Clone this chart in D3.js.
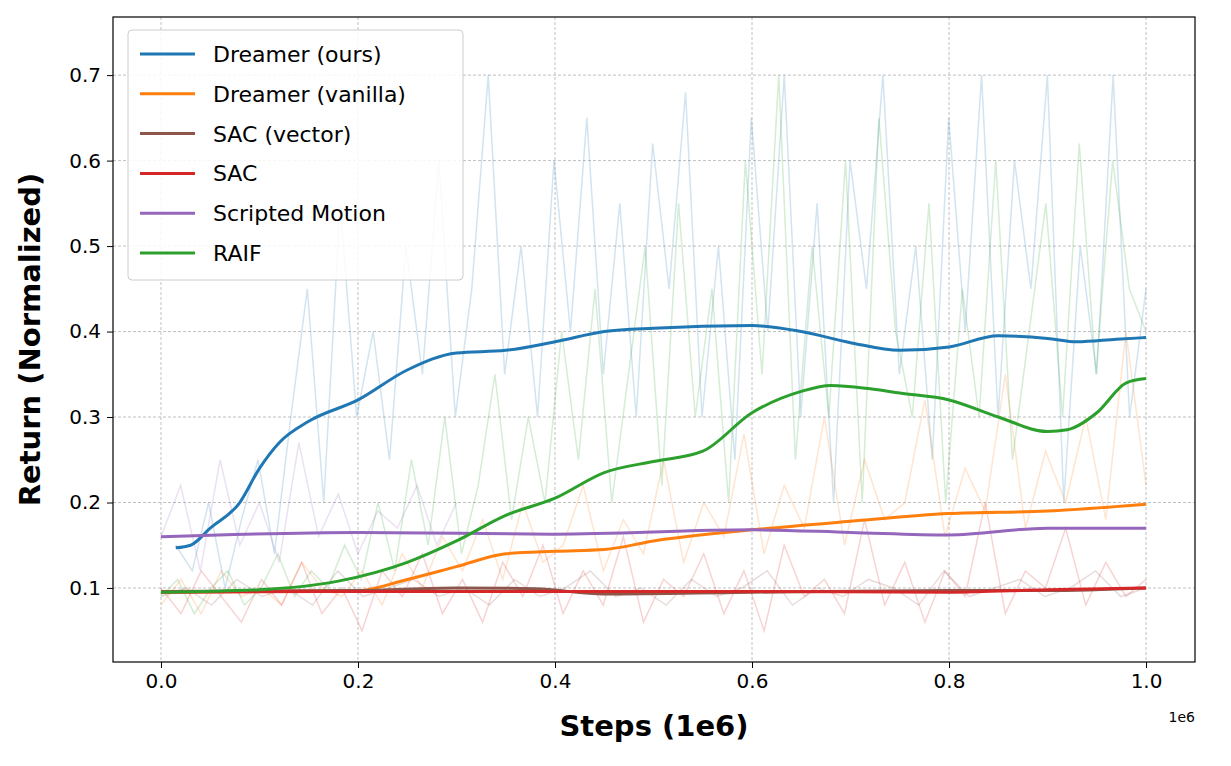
<!DOCTYPE html>
<html>
<head>
<meta charset="utf-8">
<script src="https://cdn.jsdelivr.net/npm/d3@7"></script>
<style>
  body { margin: 0; background: #fff; }
  text { font-family: "DejaVu Sans", sans-serif; }
</style>
</head>
<body>
<svg id="chart" width="1231" height="766"></svg>
<script>
// smoothed curves: [step (1e6), return]
const oursSmooth = [[0.015,0.147],[0.03,0.15],[0.05,0.17],[0.08,0.2],[0.1,0.24],[0.12,0.27],[0.15,0.295],[0.2,0.32],[0.25,0.355],[0.3,0.375],[0.35,0.378],[0.4,0.388],[0.45,0.4],[0.5,0.404],[0.6,0.407],[0.65,0.4],[0.7,0.387],[0.75,0.378],[0.8,0.382],[0.85,0.395],[0.9,0.392],[0.93,0.388],[0.97,0.391],[1.0,0.393]];
const vanillaSmooth = [[0,0.095],[0.2,0.097],[0.25,0.11],[0.3,0.125],[0.35,0.14],[0.4,0.143],[0.45,0.145],[0.5,0.155],[0.6,0.168],[0.7,0.178],[0.8,0.187],[0.9,0.19],[1.0,0.198]];
const sacVecSmooth = [[0,0.096],[0.2,0.097],[0.3,0.1],[0.38,0.099],[0.45,0.093],[0.6,0.095],[0.8,0.097],[0.9,0.097],[1.0,0.1]];
const sacSmooth = [[0,0.095],[0.2,0.096],[0.4,0.096],[0.6,0.096],[0.8,0.095],[0.9,0.098],[1.0,0.1]];
const scriptedSmooth = [[0,0.16],[0.2,0.165],[0.4,0.163],[0.6,0.168],[0.7,0.165],[0.8,0.162],[0.9,0.17],[1.0,0.17]];
const raifSmooth = [[0,0.095],[0.1,0.098],[0.18,0.108],[0.25,0.13],[0.3,0.155],[0.35,0.185],[0.4,0.205],[0.45,0.235],[0.5,0.248],[0.55,0.26],[0.6,0.305],[0.65,0.33],[0.68,0.337],[0.72,0.333],[0.75,0.328],[0.8,0.32],[0.85,0.3],[0.9,0.283],[0.92,0.285],[0.95,0.305],[0.98,0.34],[1.0,0.345]];

// raw (faint) traces, evenly spaced between start and end step
const oursRaw = [0.15,0.12,0.2,0.1,0.18,0.25,0.14,0.3,0.45,0.2,0.55,0.3,0.4,0.25,0.5,0.35,0.6,0.3,0.45,0.7,0.35,0.5,0.3,0.6,0.4,0.65,0.35,0.55,0.3,0.62,0.45,0.68,0.3,0.5,0.25,0.65,0.4,0.7,0.3,0.55,0.2,0.6,0.45,0.7,0.35,0.5,0.25,0.65,0.4,0.7,0.3,0.6,0.45,0.7,0.2,0.5,0.35,0.7,0.3,0.45];
const raifRaw = [0.09,0.11,0.07,0.1,0.12,0.08,0.1,0.14,0.09,0.12,0.1,0.15,0.11,0.2,0.12,0.25,0.15,0.3,0.14,0.22,0.35,0.18,0.3,0.2,0.4,0.25,0.45,0.2,0.35,0.5,0.22,0.55,0.3,0.45,0.2,0.6,0.35,0.7,0.25,0.5,0.3,0.6,0.2,0.65,0.4,0.3,0.55,0.2,0.45,0.3,0.6,0.25,0.4,0.55,0.3,0.62,0.35,0.6,0.45,0.4];
const vanillaRaw = [0.08,0.11,0.07,0.12,0.09,0.1,0.08,0.13,0.1,0.09,0.12,0.08,0.14,0.1,0.16,0.12,0.18,0.11,0.2,0.13,0.15,0.22,0.12,0.18,0.14,0.25,0.13,0.2,0.16,0.28,0.14,0.22,0.17,0.3,0.15,0.25,0.18,0.2,0.32,0.16,0.24,0.19,0.35,0.17,0.26,0.2,0.3,0.18,0.4,0.22];
const sacRaw = [0.1,0.07,0.12,0.09,0.06,0.11,0.08,0.13,0.07,0.1,0.05,0.12,0.09,0.14,0.07,0.11,0.06,0.13,0.09,0.15,0.07,0.12,0.08,0.16,0.06,0.11,0.09,0.14,0.07,0.12,0.05,0.15,0.09,0.11,0.07,0.18,0.08,0.13,0.06,0.12,0.09,0.2,0.07,0.12,0.1,0.17,0.08,0.13,0.09,0.11];
const sacVecRaw = [0.09,0.1,0.08,0.11,0.09,0.1,0.08,0.12,0.09,0.1,0.11,0.09,0.1,0.08,0.11,0.09,0.1,0.12,0.09,0.1,0.08,0.11,0.09,0.1,0.12,0.08,0.1,0.09,0.11,0.1,0.08,0.12,0.09,0.1,0.11,0.09,0.1,0.12,0.09,0.1];
const scriptedRaw = [0.16,0.22,0.12,0.25,0.15,0.2,0.13,0.27,0.16,0.21,0.14,0.19,0.17,0.22,0.15,0.2];

const xTicks = [0, 0.2, 0.4, 0.6, 0.8, 1.0];
const yTicks = [0.1, 0.2, 0.3, 0.4, 0.5, 0.6, 0.7];

const series = [
  { name: "Dreamer (ours)", color: "#1f77b4", smooth: oursSmooth, raw: oursRaw, x0: 0.015, x1: 1.0 },
  { name: "Dreamer (vanilla)", color: "#ff7f0e", smooth: vanillaSmooth, raw: vanillaRaw, x0: 0, x1: 1.0 },
  { name: "SAC (vector)", color: "#8c564b", smooth: sacVecSmooth, raw: sacVecRaw, x0: 0, x1: 1.0 },
  { name: "SAC", color: "#d62728", smooth: sacSmooth, raw: sacRaw, x0: 0, x1: 1.0 },
  { name: "Scripted Motion", color: "#9467bd", smooth: scriptedSmooth, raw: scriptedRaw, x0: 0, x1: 0.3 },
  { name: "RAIF", color: "#2ca02c", smooth: raifSmooth, raw: raifRaw, x0: 0, x1: 1.0 },
];

const svg = d3.select("#chart");
const pL = 113, pR = 1195, pT = 17, pB = 662;

const x = d3.scaleLinear().domain([-0.0487, 1.0497]).range([pL, pR]);
const y = d3.scaleLinear().domain([0.0134, 0.768]).range([pB, pT]);

// grid
svg.append("g").selectAll("line").data(xTicks).join("line")
  .attr("x1", d => x(d)).attr("x2", d => x(d)).attr("y1", pT).attr("y2", pB)
  .attr("stroke", "#b0b0b0").attr("stroke-width", 0.8).attr("stroke-dasharray", "3,2");
svg.append("g").selectAll("line").data(yTicks).join("line")
  .attr("y1", d => y(d)).attr("y2", d => y(d)).attr("x1", pL).attr("x2", pR)
  .attr("stroke", "#b0b0b0").attr("stroke-width", 0.8).attr("stroke-dasharray", "3,2");

const rawLine = d3.line().x(d => x(d[0])).y(d => y(d[1]));
const smoothLine = d3.line().x(d => x(d[0])).y(d => y(d[1])).curve(d3.curveMonotoneX);

// raw traces
series.forEach(s => {
  const n = s.raw.length;
  const pts = s.raw.map((v, i) => [s.x0 + (s.x1 - s.x0) * i / (n - 1), v]);
  svg.append("path").datum(pts).attr("d", rawLine)
    .attr("fill", "none").attr("stroke", s.color).attr("stroke-opacity", 0.2).attr("stroke-width", 1.5);
});

// smoothed
series.forEach(s => {
  svg.append("path").datum(s.smooth).attr("d", smoothLine)
    .attr("fill", "none").attr("stroke", s.color).attr("stroke-width", 3);
});

// axes
svg.append("g").attr("transform", `translate(0,${pB})`)
  .call(d3.axisBottom(x).tickValues(xTicks).tickFormat(d3.format(".1f")).tickSizeOuter(0).tickSize(6).tickPadding(6))
  .call(g => g.selectAll("text").attr("font-size", 20).attr("fill", "#000"))
  .call(g => g.select(".domain").remove());
svg.append("g").attr("transform", `translate(${pL},0)`)
  .call(d3.axisLeft(y).tickValues(yTicks).tickFormat(d3.format(".1f")).tickSizeOuter(0).tickSize(6).tickPadding(6))
  .call(g => g.selectAll("text").attr("font-size", 20).attr("fill", "#000"))
  .call(g => g.select(".domain").remove());

svg.append("rect").attr("x", pL).attr("y", pT).attr("width", pR - pL).attr("height", pB - pT)
  .attr("fill", "none").attr("stroke", "#000").attr("stroke-width", 1.2);

svg.append("text").attr("x", (pL + pR) / 2).attr("y", 736).attr("text-anchor", "middle")
  .attr("font-size", 29).attr("font-weight", "bold").text("Steps (1e6)");
svg.append("text").attr("transform", `translate(40,${(pT + pB) / 2}) rotate(-90)`).attr("text-anchor", "middle")
  .attr("font-size", 29).attr("font-weight", "bold").text("Return (Normalized)");
svg.append("text").attr("x", pR).attr("y", 722).attr("text-anchor", "end").attr("font-size", 14).text("1e6");

// legend
const lg = svg.append("g");
lg.append("rect").attr("x", 128).attr("y", 30).attr("width", 335).attr("height", 250).attr("rx", 4)
  .attr("fill", "#fff").attr("fill-opacity", 0.85).attr("stroke", "#ccc");
series.forEach((s, i) => {
  const yy = 54 + i * 39.8;
  lg.append("line").attr("x1", 140).attr("x2", 195).attr("y1", yy).attr("y2", yy)
    .attr("stroke", s.color).attr("stroke-width", 3);
  lg.append("text").attr("x", 213).attr("y", yy + 8).attr("font-size", 22).text(s.name);
});
</script>
</body>
</html>
